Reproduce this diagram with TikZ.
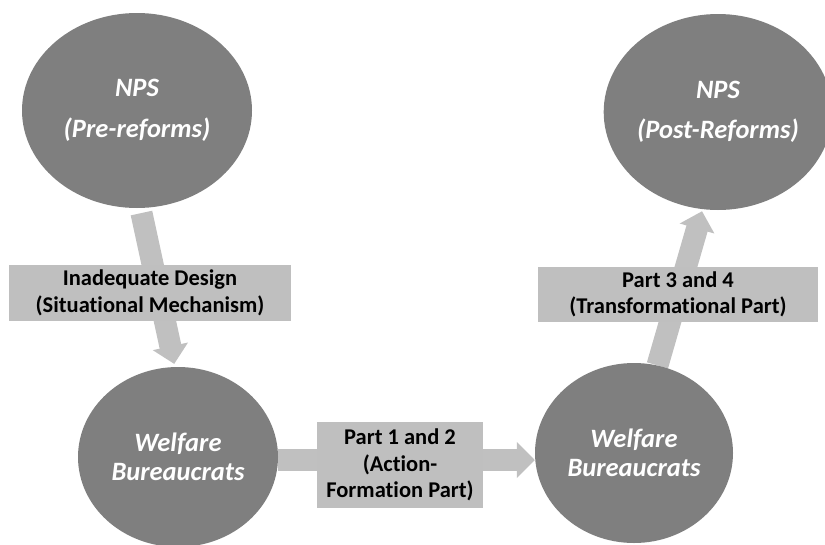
\documentclass[tikz,border=0pt]{standalone}
\usepackage{fontspec}
\setmainfont[Ligatures={NoCommon}]{Carlito}
\usetikzlibrary{shapes.geometric,arrows.meta}
\pgfdeclarelayer{background}
\pgfsetlayers{background,main}
\definecolor{ellgray}{HTML}{7F7F7F}
\definecolor{boxgray}{HTML}{BFBFBF}
\definecolor{arrgray}{HTML}{C0C0C0}
\tikzset{
  state/.style={ellipse, fill=ellgray, draw=none, inner sep=0pt, text=white,
    font=\fontsize{26.5}{29.5}\selectfont\bfseries\itshape, align=center},
  label box/.style={rectangle, fill=boxgray, draw=none, inner sep=0pt, text=black,
    font=\fontsize{22.5}{26.5}\selectfont\bfseries, align=center},
  block arrow/.style={draw=arrgray, line width=22pt,
    -{Triangle[width=35pt,length=18pt]}},
}
\begin{document}
\begin{tikzpicture}[x=1pt,y=-1pt]
\useasboundingbox (0,0) rectangle (825,544);
% states
\node[state, minimum width=230pt, minimum height=195pt] (npsL) at (137,110.5)
  {NPS\\[11pt](Pre-reforms)};
\node[state, minimum width=226pt, minimum height=196pt] (npsR) at (718,112)
  {NPS\\[11pt](Post-Reforms)};
\node[state, minimum width=200pt, minimum height=180pt] (wbL) at (178,457)
  {Welfare\\Bureaucrats};
\node[state, minimum width=198pt, minimum height=180pt] (wbR) at (634,453)
  {Welfare\\Bureaucrats};
% labels
\node[label box, minimum width=282pt, minimum height=56pt] (lab1) at (150,293)
  {Inadequate Design\\(Situational Mechanism)};
\node[label box, minimum width=166pt, minimum height=86pt] (lab2) at (400,465)
  {Part 1 and 2\\(Action-\\Formation Part)};
\node[label box, minimum width=280pt, minimum height=55pt] (lab3) at (678,294.5)
  {Part 3 and 4\\(Transformational Part)};
\coordinate (hy) at (0,460);
% connectors
\begin{pgfonlayer}{background}
\draw[block arrow, shorten <=5pt, shorten >=3pt] (npsL.-88) -- (wbL.92);
\draw[block arrow] (wbL.east |- hy) -- (wbR.west |- hy);
\draw[block arrow, shorten >=2pt] (wbR.75) -- (npsR.-99);
\end{pgfonlayer}
\end{tikzpicture}
\end{document}
